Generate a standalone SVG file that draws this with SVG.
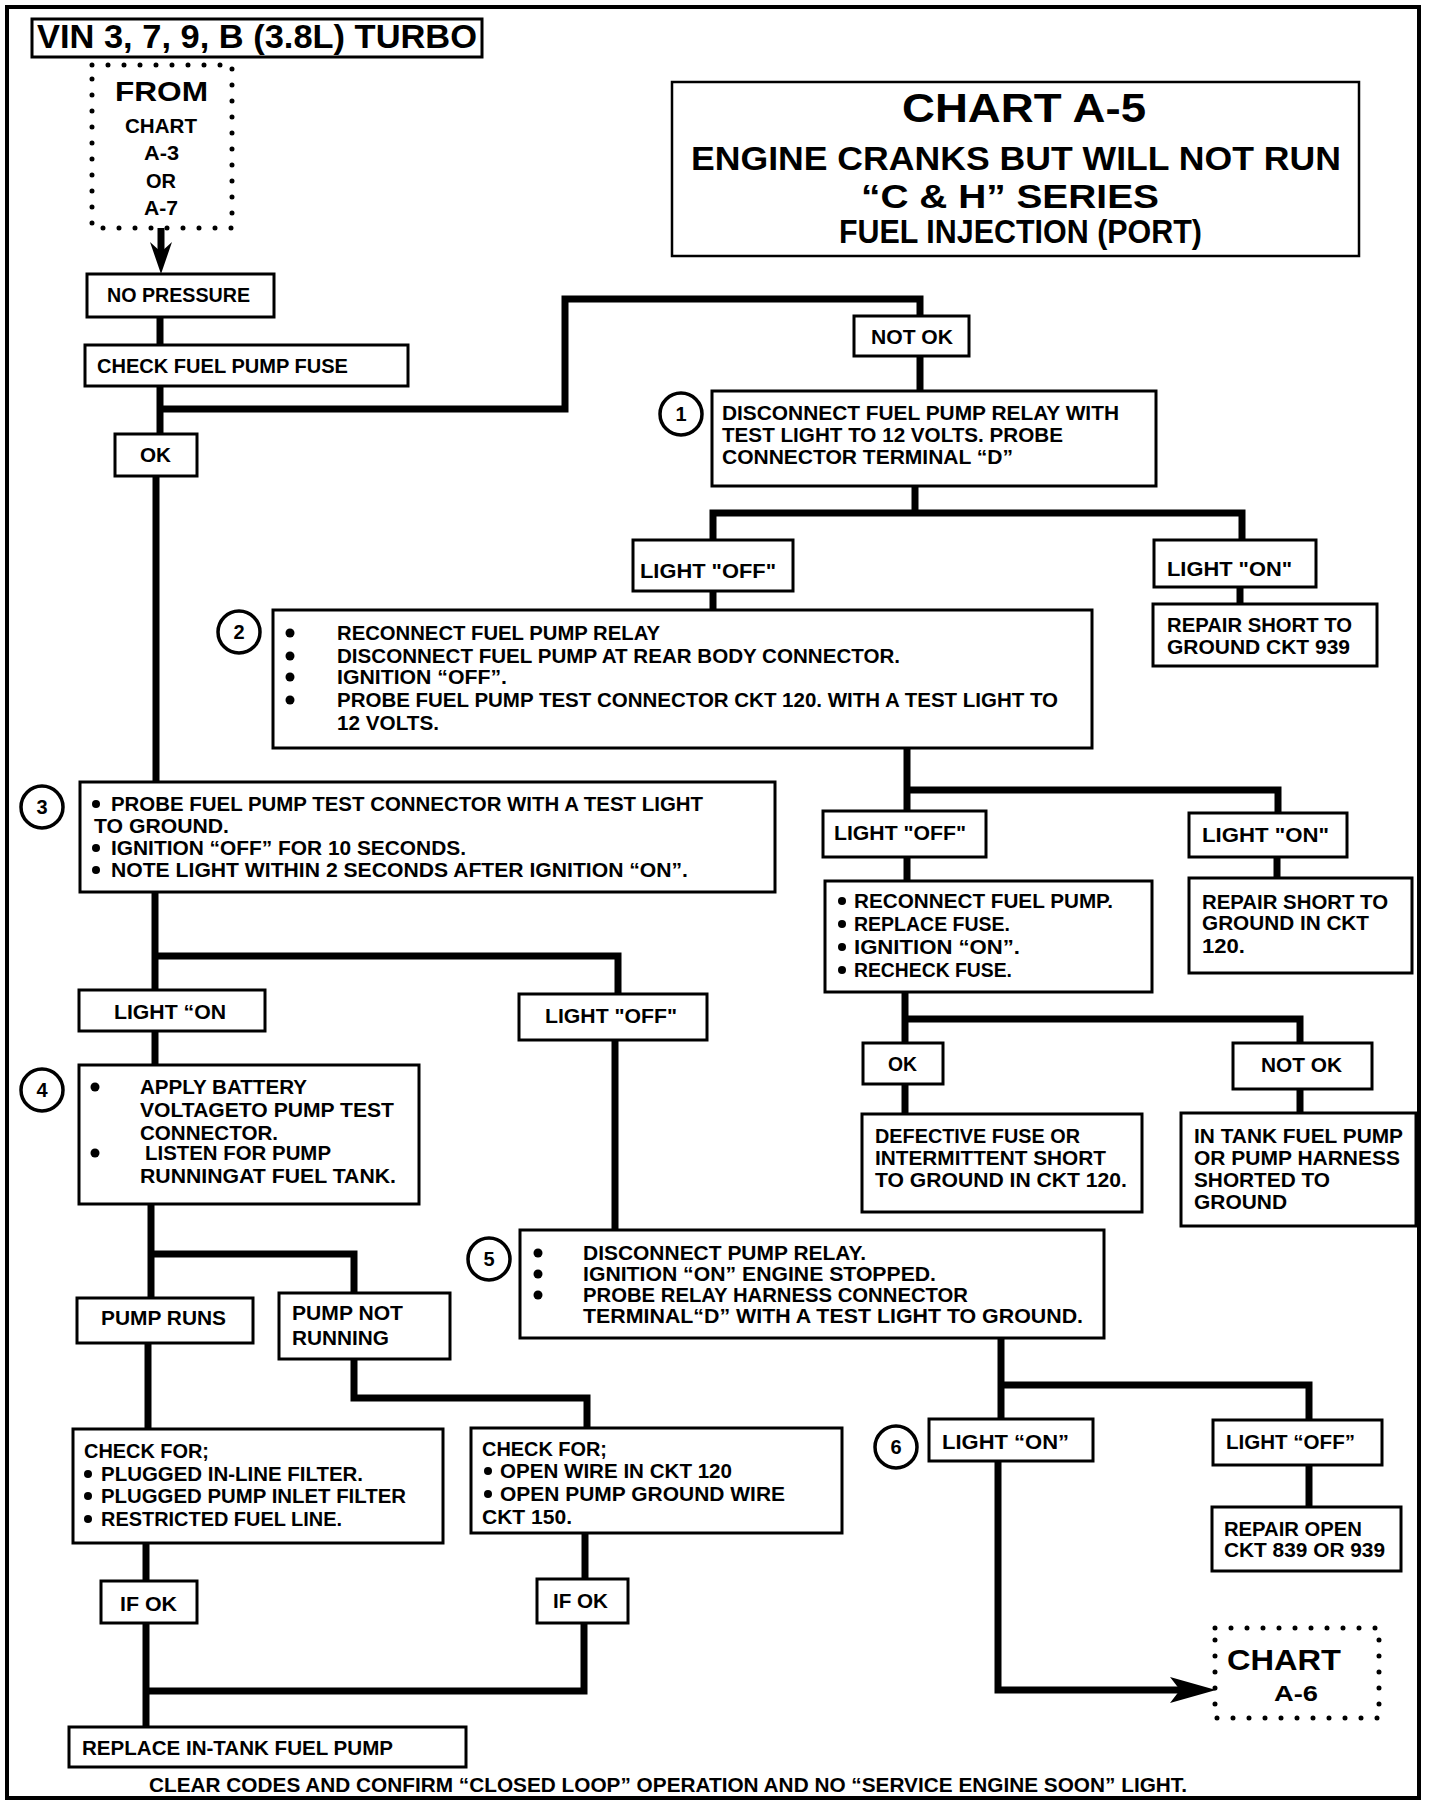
<svg xmlns="http://www.w3.org/2000/svg" width="1440" height="1802" viewBox="0 0 1440 1802">
<style>
.bx{fill:#fff;stroke:#000;stroke-width:3}
.dt{fill:none;stroke:#000;stroke-width:5;stroke-linecap:round;stroke-dasharray:0 16}
.cn{fill:none;stroke:#000;stroke-width:7;stroke-linejoin:miter}
.ci{fill:#fff;stroke:#000;stroke-width:3.5}
text{font-family:"Liberation Sans",Arial,sans-serif;font-weight:bold;font-size:20px;fill:#000}
.n{font-size:20px;text-anchor:middle}
</style>
<rect width="1440" height="1802" fill="#fff"/>
<rect x="7" y="7" width="1412" height="1791" fill="none" stroke="#000" stroke-width="4"/>

<g id="connectors">
<path class="cn" d="M161 228 V256"/>
<polygon points="150,242 161,274 172,242 161,252"/>
<path class="cn" d="M160 317 V345"/>
<path class="cn" d="M160 386 V434"/>
<path class="cn" d="M160 409 H565 V299 H920 V316"/>
<path class="cn" d="M920 356 V391"/>
<path class="cn" d="M156 476 V782"/>
<path class="cn" d="M915 486 V513"/>
<path class="cn" d="M713 540 V513 H1242 V540"/>
<path class="cn" d="M713 591 V610"/>
<path class="cn" d="M1240 587 V604"/>
<path class="cn" d="M907 748 V811"/>
<path class="cn" d="M907 790 H1278 V813"/>
<path class="cn" d="M907 857 V881"/>
<path class="cn" d="M1277 857 V878"/>
<path class="cn" d="M905 992 V1043"/>
<path class="cn" d="M905 1019 H1300 V1043"/>
<path class="cn" d="M905 1084 V1114"/>
<path class="cn" d="M1300 1089 V1113"/>
<path class="cn" d="M155 892 V990"/>
<path class="cn" d="M155 956 H618 V994"/>
<path class="cn" d="M155 1031 V1065"/>
<path class="cn" d="M615 1040 V1230"/>
<path class="cn" d="M151 1204 V1298"/>
<path class="cn" d="M151 1254 H354 V1293"/>
<path class="cn" d="M148 1343 V1429"/>
<path class="cn" d="M354 1359 V1398 H587 V1428"/>
<path class="cn" d="M146 1543 V1581"/>
<path class="cn" d="M585 1533 V1579"/>
<path class="cn" d="M146 1623 V1727"/>
<path class="cn" d="M584 1623 V1691 H146"/>
<path class="cn" d="M1001 1338 V1419"/>
<path class="cn" d="M1001 1385 H1309 V1420"/>
<path class="cn" d="M1309 1465 V1507"/>
<path class="cn" d="M998 1461 V1690 H1182"/>
<polygon points="1170,1677 1216,1690 1170,1703 1180,1690"/>
</g>

<g id="vin">
<rect class="bx" x="32" y="19" width="450" height="38"/>
<text x="37" y="48" style="font-size:34px" textLength="440" lengthAdjust="spacingAndGlyphs">VIN 3, 7, 9, B (3.8L) TURBO</text>
</g>

<g id="from">
<rect class="dt" x="92" y="65" width="140" height="163"/>
<text x="115" y="101" style="font-size:28px" textLength="93" lengthAdjust="spacingAndGlyphs">FROM</text>
<text x="125" y="133" style="font-size:21px" textLength="72" lengthAdjust="spacingAndGlyphs">CHART</text>
<text x="144" y="160" textLength="35" lengthAdjust="spacingAndGlyphs">A-3</text>
<text x="146" y="188" textLength="30" lengthAdjust="spacingAndGlyphs">OR</text>
<text x="144" y="215" textLength="34" lengthAdjust="spacingAndGlyphs">A-7</text>
</g>

<g id="title">
<rect x="672" y="82" width="687" height="174" fill="#fff" stroke="#000" stroke-width="2.5"/>
<text x="902" y="122" style="font-size:40px" textLength="244" lengthAdjust="spacingAndGlyphs">CHART A-5</text>
<text x="691" y="170" style="font-size:34px" textLength="650" lengthAdjust="spacingAndGlyphs">ENGINE CRANKS BUT WILL NOT RUN</text>
<text x="861" y="208" style="font-size:34px" textLength="298" lengthAdjust="spacingAndGlyphs">“C &amp; H”  SERIES</text>
<text x="839" y="243" style="font-size:33px" textLength="363" lengthAdjust="spacingAndGlyphs">FUEL INJECTION (PORT)</text>
</g>

<g id="no-pressure">
<rect class="bx" x="87" y="274" width="187" height="43"/>
<text x="107" y="302" textLength="143" lengthAdjust="spacingAndGlyphs">NO PRESSURE</text>
</g>
<g id="check-fuse">
<rect class="bx" x="85" y="345" width="323" height="41"/>
<text x="97" y="373" textLength="251" lengthAdjust="spacingAndGlyphs">CHECK FUEL PUMP FUSE</text>
</g>
<g id="ok1">
<rect class="bx" x="115" y="434" width="82" height="42"/>
<text x="140" y="462" textLength="31" lengthAdjust="spacingAndGlyphs">OK</text>
</g>
<g id="notok1">
<rect class="bx" x="854" y="316" width="115" height="40"/>
<text x="871" y="344" textLength="82" lengthAdjust="spacingAndGlyphs">NOT OK</text>
</g>

<g id="step1">
<circle class="ci" cx="681" cy="414" r="21"/>
<text class="n" x="681" y="421">1</text>
<rect class="bx" x="712" y="391" width="444" height="95"/>
<text x="722" y="420" textLength="397" lengthAdjust="spacingAndGlyphs">DISCONNECT FUEL PUMP RELAY WITH</text>
<text x="722" y="442" textLength="341" lengthAdjust="spacingAndGlyphs">TEST LIGHT TO 12 VOLTS.  PROBE</text>
<text x="722" y="464" textLength="291" lengthAdjust="spacingAndGlyphs">CONNECTOR TERMINAL “D”</text>
</g>

<g id="light-off-1">
<rect class="bx" x="633" y="540" width="160" height="51"/>
<text x="640" y="578" textLength="136" lengthAdjust="spacingAndGlyphs">LIGHT "OFF"</text>
</g>
<g id="light-on-1">
<rect class="bx" x="1154" y="540" width="162" height="47"/>
<text x="1167" y="576" textLength="125" lengthAdjust="spacingAndGlyphs">LIGHT "ON"</text>
</g>
<g id="repair-939">
<rect class="bx" x="1153" y="604" width="224" height="62"/>
<text x="1167" y="632" textLength="185" lengthAdjust="spacingAndGlyphs">REPAIR SHORT TO</text>
<text x="1167" y="654" textLength="183" lengthAdjust="spacingAndGlyphs">GROUND CKT 939</text>
</g>

<g id="step2">
<circle class="ci" cx="239" cy="632" r="21"/>
<text class="n" x="239" y="639">2</text>
<rect class="bx" x="273" y="610" width="819" height="138"/>
<circle cx="290" cy="633" r="4.5"/>
<circle cx="290" cy="656" r="4.5"/>
<circle cx="290" cy="677" r="4.5"/>
<circle cx="290" cy="700" r="4.5"/>
<text x="337" y="640" textLength="323" lengthAdjust="spacingAndGlyphs">RECONNECT FUEL PUMP RELAY</text>
<text x="337" y="663" textLength="563" lengthAdjust="spacingAndGlyphs">DISCONNECT FUEL PUMP AT REAR BODY CONNECTOR.</text>
<text x="337" y="684" textLength="170" lengthAdjust="spacingAndGlyphs">IGNITION “OFF”.</text>
<text x="337" y="707" textLength="721" lengthAdjust="spacingAndGlyphs">PROBE FUEL PUMP TEST CONNECTOR CKT 120. WITH A TEST LIGHT TO</text>
<text x="337" y="730" textLength="102" lengthAdjust="spacingAndGlyphs">12 VOLTS.</text>
</g>

<g id="step3">
<circle class="ci" cx="42" cy="807" r="21"/>
<text class="n" x="42" y="814">3</text>
<rect class="bx" x="80" y="782" width="695" height="110"/>
<circle cx="96" cy="804" r="4"/>
<circle cx="96" cy="848" r="4"/>
<circle cx="96" cy="870" r="4"/>
<text x="111" y="811" textLength="592" lengthAdjust="spacingAndGlyphs">PROBE FUEL PUMP TEST CONNECTOR WITH A TEST LIGHT</text>
<text x="94" y="833" textLength="135" lengthAdjust="spacingAndGlyphs">TO GROUND.</text>
<text x="111" y="855" textLength="355" lengthAdjust="spacingAndGlyphs">IGNITION “OFF” FOR 10 SECONDS.</text>
<text x="111" y="877" textLength="577" lengthAdjust="spacingAndGlyphs">NOTE LIGHT WITHIN 2 SECONDS AFTER IGNITION “ON”.</text>
</g>

<g id="light-off-2">
<rect class="bx" x="823" y="811" width="163" height="46"/>
<text x="834" y="840" textLength="132" lengthAdjust="spacingAndGlyphs">LIGHT "OFF"</text>
</g>
<g id="light-on-2">
<rect class="bx" x="1189" y="813" width="158" height="44"/>
<text x="1202" y="842" textLength="127" lengthAdjust="spacingAndGlyphs">LIGHT "ON"</text>
</g>
<g id="reconnect">
<rect class="bx" x="825" y="881" width="327" height="111"/>
<circle cx="842" cy="901" r="4"/>
<circle cx="842" cy="924" r="4"/>
<circle cx="842" cy="947" r="4"/>
<circle cx="842" cy="970" r="4"/>
<text x="854" y="908" textLength="259" lengthAdjust="spacingAndGlyphs">RECONNECT FUEL PUMP.</text>
<text x="854" y="931" textLength="156" lengthAdjust="spacingAndGlyphs">REPLACE FUSE.</text>
<text x="854" y="954" textLength="166" lengthAdjust="spacingAndGlyphs">IGNITION “ON”.</text>
<text x="854" y="977" textLength="158" lengthAdjust="spacingAndGlyphs">RECHECK FUSE.</text>
</g>
<g id="repair-120">
<rect class="bx" x="1189" y="878" width="223" height="95"/>
<text x="1202" y="909" textLength="186" lengthAdjust="spacingAndGlyphs">REPAIR SHORT TO</text>
<text x="1202" y="930" textLength="167" lengthAdjust="spacingAndGlyphs">GROUND IN CKT</text>
<text x="1202" y="953" textLength="43" lengthAdjust="spacingAndGlyphs">120.</text>
</g>
<g id="ok3">
<rect class="bx" x="863" y="1043" width="80" height="41"/>
<text x="888" y="1071" textLength="29" lengthAdjust="spacingAndGlyphs">OK</text>
</g>
<g id="notok3">
<rect class="bx" x="1233" y="1043" width="139" height="46"/>
<text x="1261" y="1072" textLength="81" lengthAdjust="spacingAndGlyphs">NOT OK</text>
</g>
<g id="defective">
<rect class="bx" x="862" y="1114" width="280" height="98"/>
<text x="875" y="1143" textLength="205" lengthAdjust="spacingAndGlyphs">DEFECTIVE FUSE OR</text>
<text x="875" y="1165" textLength="231" lengthAdjust="spacingAndGlyphs">INTERMITTENT SHORT</text>
<text x="875" y="1187" textLength="252" lengthAdjust="spacingAndGlyphs">TO GROUND IN CKT 120.</text>
</g>
<g id="in-tank">
<rect class="bx" x="1181" y="1113" width="235" height="113"/>
<text x="1194" y="1143" textLength="209" lengthAdjust="spacingAndGlyphs">IN TANK FUEL PUMP</text>
<text x="1194" y="1165" textLength="206" lengthAdjust="spacingAndGlyphs">OR  PUMP HARNESS</text>
<text x="1194" y="1187" textLength="136" lengthAdjust="spacingAndGlyphs">SHORTED TO</text>
<text x="1194" y="1209" textLength="93" lengthAdjust="spacingAndGlyphs">GROUND</text>
</g>

<g id="light-on-3">
<rect class="bx" x="79" y="990" width="186" height="41"/>
<text x="114" y="1019" textLength="112" lengthAdjust="spacingAndGlyphs">LIGHT “ON</text>
</g>
<g id="light-off-3">
<rect class="bx" x="519" y="994" width="188" height="46"/>
<text x="545" y="1023" textLength="132" lengthAdjust="spacingAndGlyphs">LIGHT "OFF"</text>
</g>

<g id="step4">
<circle class="ci" cx="42" cy="1090" r="21"/>
<text class="n" x="42" y="1097">4</text>
<rect class="bx" x="79" y="1065" width="340" height="139"/>
<circle cx="95" cy="1087" r="4.5"/>
<circle cx="95" cy="1153" r="4.5"/>
<text x="140" y="1094" textLength="167" lengthAdjust="spacingAndGlyphs">APPLY BATTERY</text>
<text x="140" y="1117" textLength="254" lengthAdjust="spacingAndGlyphs">VOLTAGETO PUMP TEST</text>
<text x="140" y="1140" textLength="138" lengthAdjust="spacingAndGlyphs">CONNECTOR.</text>
<text x="145" y="1160" textLength="186" lengthAdjust="spacingAndGlyphs">LISTEN FOR PUMP</text>
<text x="140" y="1183" textLength="256" lengthAdjust="spacingAndGlyphs">RUNNINGAT FUEL TANK.</text>
</g>

<g id="step5">
<circle class="ci" cx="489" cy="1259" r="21"/>
<text class="n" x="489" y="1266">5</text>
<rect class="bx" x="520" y="1230" width="584" height="108"/>
<circle cx="538" cy="1253" r="4.5"/>
<circle cx="538" cy="1274" r="4.5"/>
<circle cx="538" cy="1295" r="4.5"/>
<text x="583" y="1260" textLength="283" lengthAdjust="spacingAndGlyphs">DISCONNECT PUMP RELAY.</text>
<text x="583" y="1281" textLength="353" lengthAdjust="spacingAndGlyphs">IGNITION “ON” ENGINE STOPPED.</text>
<text x="583" y="1302" textLength="385" lengthAdjust="spacingAndGlyphs">PROBE RELAY HARNESS CONNECTOR</text>
<text x="583" y="1323" textLength="500" lengthAdjust="spacingAndGlyphs">TERMINAL“D” WITH A TEST LIGHT TO GROUND.</text>
</g>

<g id="pump-runs">
<rect class="bx" x="77" y="1298" width="176" height="45"/>
<text x="101" y="1325" textLength="125" lengthAdjust="spacingAndGlyphs">PUMP RUNS</text>
</g>
<g id="pump-not-running">
<rect class="bx" x="279" y="1293" width="171" height="66"/>
<text x="292" y="1320" textLength="111" lengthAdjust="spacingAndGlyphs">PUMP NOT</text>
<text x="292" y="1345" textLength="97" lengthAdjust="spacingAndGlyphs">RUNNING</text>
</g>
<g id="check-left">
<rect class="bx" x="73" y="1429" width="370" height="114"/>
<text x="84" y="1458" textLength="125" lengthAdjust="spacingAndGlyphs">CHECK FOR;</text>
<circle cx="88" cy="1474" r="4"/>
<circle cx="88" cy="1496" r="4"/>
<circle cx="88" cy="1519" r="4"/>
<text x="101" y="1481" textLength="262" lengthAdjust="spacingAndGlyphs">PLUGGED IN-LINE FILTER.</text>
<text x="101" y="1503" textLength="305" lengthAdjust="spacingAndGlyphs">PLUGGED PUMP INLET FILTER</text>
<text x="101" y="1526" textLength="241" lengthAdjust="spacingAndGlyphs">RESTRICTED FUEL LINE.</text>
</g>
<g id="check-right">
<rect class="bx" x="471" y="1428" width="371" height="105"/>
<text x="482" y="1456" textLength="125" lengthAdjust="spacingAndGlyphs">CHECK FOR;</text>
<circle cx="488" cy="1471" r="4"/>
<circle cx="488" cy="1494" r="4"/>
<text x="500" y="1478" textLength="232" lengthAdjust="spacingAndGlyphs">OPEN WIRE IN CKT 120</text>
<text x="500" y="1501" textLength="285" lengthAdjust="spacingAndGlyphs">OPEN PUMP GROUND WIRE</text>
<text x="482" y="1524" textLength="90" lengthAdjust="spacingAndGlyphs">CKT 150.</text>
</g>
<g id="ifok-left">
<rect class="bx" x="101" y="1581" width="96" height="42"/>
<text x="120" y="1611" textLength="57" lengthAdjust="spacingAndGlyphs">IF OK</text>
</g>
<g id="ifok-right">
<rect class="bx" x="537" y="1579" width="91" height="44"/>
<text x="553" y="1608" textLength="55" lengthAdjust="spacingAndGlyphs">IF OK</text>
</g>
<g id="replace">
<rect class="bx" x="69" y="1727" width="397" height="40"/>
<text x="82" y="1755" textLength="311" lengthAdjust="spacingAndGlyphs">REPLACE IN-TANK FUEL PUMP</text>
</g>

<g id="step6">
<circle class="ci" cx="896" cy="1447" r="21"/>
<text class="n" x="896" y="1454">6</text>
<rect class="bx" x="929" y="1419" width="164" height="42"/>
<text x="942" y="1449" textLength="127" lengthAdjust="spacingAndGlyphs">LIGHT “ON”</text>
</g>
<g id="light-off-6">
<rect class="bx" x="1213" y="1420" width="169" height="45"/>
<text x="1226" y="1449" textLength="129" lengthAdjust="spacingAndGlyphs">LIGHT “OFF”</text>
</g>
<g id="repair-open">
<rect class="bx" x="1212" y="1507" width="189" height="64"/>
<text x="1224" y="1536" textLength="138" lengthAdjust="spacingAndGlyphs">REPAIR OPEN</text>
<text x="1224" y="1557" textLength="161" lengthAdjust="spacingAndGlyphs">CKT 839 OR 939</text>
</g>
<g id="chart-a6">
<rect class="dt" x="1215" y="1628" width="164" height="90"/>
<text x="1227" y="1670" style="font-size:30px" textLength="114" lengthAdjust="spacingAndGlyphs">CHART</text>
<text x="1274" y="1701" style="font-size:22px" textLength="44" lengthAdjust="spacingAndGlyphs">A-6</text>
</g>

<g id="footer">
<text x="149" y="1792" style="font-size:21px" textLength="1038" lengthAdjust="spacingAndGlyphs">CLEAR CODES AND CONFIRM “CLOSED LOOP” OPERATION AND NO “SERVICE ENGINE SOON” LIGHT.</text>
</g>
</svg>
